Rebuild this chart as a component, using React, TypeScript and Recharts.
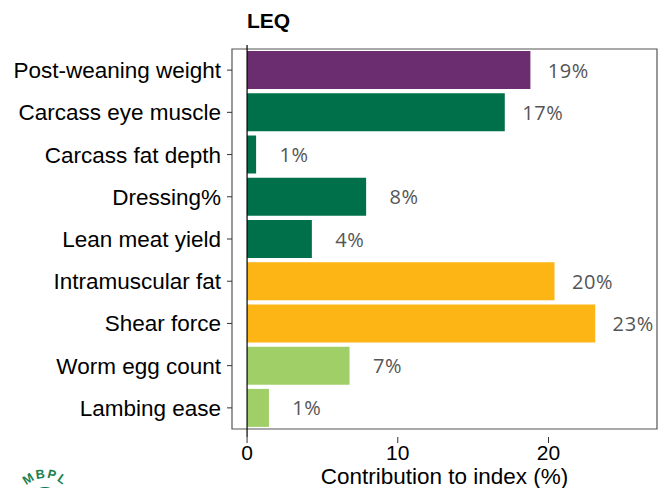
import React from "react";
import {
  BarChart,
  Bar,
  XAxis,
  YAxis,
  Cell,
  LabelList,
  ReferenceLine,
  ReferenceArea,
} from "recharts";

const traits = [
  "Post-weaning weight",
  "Carcass eye muscle",
  "Carcass fat depth",
  "Dressing%",
  "Lean meat yield",
  "Intramuscular fat",
  "Shear force",
  "Worm egg count",
  "Lambing ease",
];
const contribution = [18.8, 17.1, 0.6, 7.9, 4.3, 20.4, 23.1, 6.8, 1.45];
const labels = ["19%", "17%", "1%", "8%", "4%", "20%", "23%", "7%", "1%"];
const groupColours = [
  "#6b2d70",
  "#00704a",
  "#00704a",
  "#00704a",
  "#00704a",
  "#fdb515",
  "#fdb515",
  "#a0cf67",
  "#a0cf67",
];
const xTicks = [0, 10, 20];

const data = traits.map((t, i) => ({
  trait: t,
  value: contribution[i],
  label: labels[i],
  colour: groupColours[i],
}));

const AXIS_FONT = "Arial, 'Liberation Sans', sans-serif";

const PctLabel = (props: any) => {
  const { x, y, width, height, index } = props;
  return (
    <text
      x={x + width + 38}
      y={y + height / 2}
      textAnchor="middle"
      dominantBaseline="central"
      fill="#555555"
      fontSize={20}
      letterSpacing={0.6}
      fontFamily="'Open Sans', sans-serif"
    >
      {labels[index]}
    </text>
  );
};

export default function App() {
  return (
    <div style={{ position: "absolute", left: 0, top: 0, width: 666, height: 488, background: "#fff", overflow: "hidden" }}>
      <div
        style={{
          position: "absolute",
          left: 247,
          top: 9,
          fontFamily: AXIS_FONT,
          fontWeight: "bold",
          fontSize: 21,
          lineHeight: "24px",
        }}
      >
        LEQ
      </div>
      <BarChart
        width={666}
        height={488}
        data={data}
        layout="vertical"
        margin={{ top: 45, right: 9, bottom: 21, left: 0 }}
        barCategoryGap="5%"
      >
        <XAxis
          type="number"
          domain={[-1, 27.2]}
          ticks={xTicks}
          allowDataOverflow
          height={30}
          axisLine={false}
          tickLine={{ stroke: "#333" }}
          tickSize={6}
          tick={{ fill: "#000", fontSize: 21, fontFamily: AXIS_FONT }}
          label={{
            value: "Contribution to index (%)",
            position: "insideBottom",
            offset: -17,
            fill: "#000",
            fontSize: 22.5,
            fontFamily: AXIS_FONT,
          }}
        />
        <YAxis
          type="category"
          dataKey="trait"
          width={232}
          axisLine={false}
          tickLine={{ stroke: "#333" }}
          tickSize={5}
          tickMargin={6}
          padding={{ top: 4, bottom: 8 }}
          tick={{ fill: "#000", fontSize: 22.5, fontFamily: AXIS_FONT }}
        />
        <ReferenceArea
          x1={-1}
          x2={27.2}
          fill="none"
          stroke="#555"
          strokeWidth={1.2}
          ifOverflow="visible"
        />
        <Bar dataKey="value" isAnimationActive={false}>
          {data.map((d, i) => (
            <Cell key={i} fill={d.colour} />
          ))}
          <LabelList dataKey="label" content={PctLabel} />
        </Bar>
        <ReferenceLine x={0} stroke="#000" strokeWidth={1.2} />
      </BarChart>
      <svg style={{ position: "absolute", left: 9, top: 460 }} width={72} height={28}>
        <defs>
          <path id="logoArc" d="M 10 44 A 26 26 0 0 1 62 44" />
        </defs>
        <circle cx={36} cy={42} r={15} fill="#00704a" />
        <text fontSize={12.5} fontWeight="bold" fill="#1a7f4e" fontFamily={AXIS_FONT} letterSpacing={1.5}>
          <textPath href="#logoArc" startOffset="50%" textAnchor="middle">MBPL</textPath>
        </text>
      </svg>
    </div>
  );
}
